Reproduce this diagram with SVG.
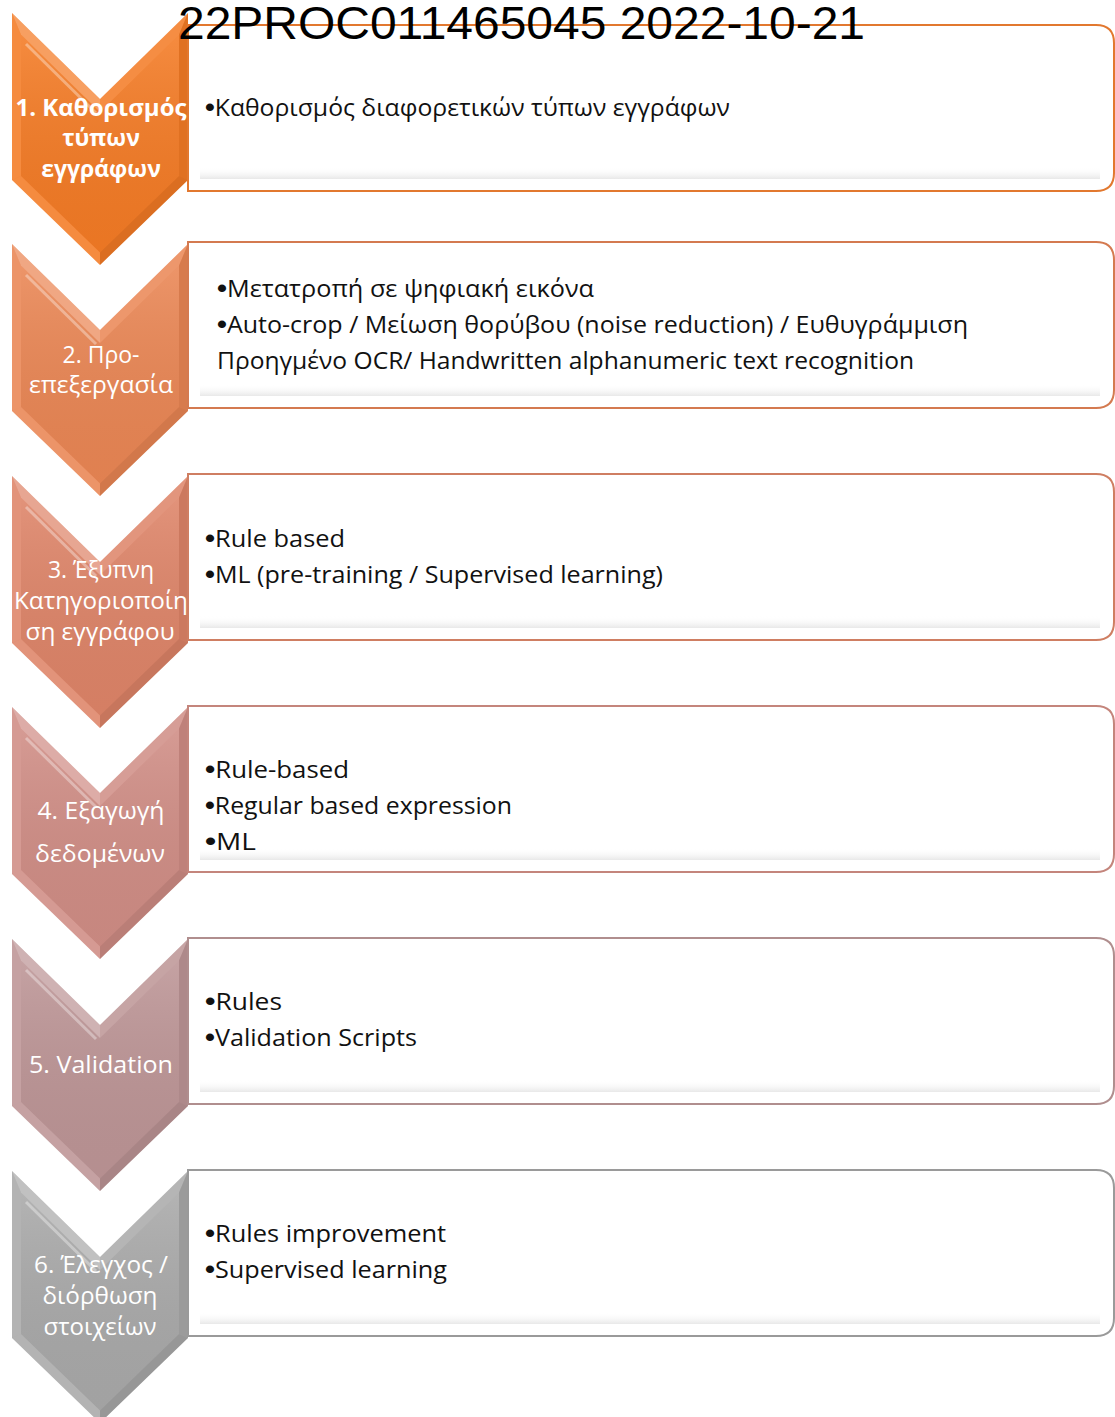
<svg xmlns="http://www.w3.org/2000/svg" xmlns:xlink="http://www.w3.org/1999/xlink" width="1115" height="1417" viewBox="0 0 1115 1417">
<style>
  .body { font-family: "Open Sans", "Noto Sans", "Liberation Sans", sans-serif; font-size: 23px; fill: #111; }
  .bul { font-family: "Liberation Sans", sans-serif; font-size: 26px; font-weight: bold; }
  .lbl { font-family: "Open Sans", "Noto Sans", "Liberation Sans", sans-serif; font-size: 23px; fill: #ffffff; text-anchor: middle; }
  .lblb { font-weight: bold; }
  .box { fill: #ffffff; stroke-width: 2; }
  .title { font-family: "Liberation Sans", Arial, sans-serif; font-size: 46px; fill: #000; }
</style>
<defs>
  <path id="chev" d="M12,13 L100,99 L188,13 L188,180 L100,265 L12,180 Z"/>
  <linearGradient id="shade" x1="0" y1="0" x2="0" y2="1">
    <stop offset="0" stop-color="#ffffff" stop-opacity="0.12"/>
    <stop offset="1" stop-color="#000000" stop-opacity="0.04"/>
  </linearGradient>
  <linearGradient id="band" x1="0" y1="0" x2="0" y2="1">
    <stop offset="0" stop-color="#ffffff" stop-opacity="0"/>
    <stop offset="1" stop-color="#e8e8e8" stop-opacity="1"/>
  </linearGradient>
  <g id="bevel">
    <polygon points="12,13 100,99 100,112 21,34.5" fill="#ffffff" fill-opacity="0.28"/>
    <polygon points="100,99 188,13 179,34.5 100,112" fill="#ffffff" fill-opacity="0.14"/>
    <polygon points="12,13 21,34.5 21,176 12,180" fill="#ffffff" fill-opacity="0.12"/>
    <polygon points="188,13 188,180 179,176 179,34.5" fill="#000000" fill-opacity="0.08"/>
    <polygon points="12,180 21,176 100,252.5 100,265" fill="#ffffff" fill-opacity="0.12"/>
    <polygon points="188,180 100,265 100,252.5 179,176" fill="#000000" fill-opacity="0.1"/>
    <polygon points="21,34.5 100,112 179,34.5 179,176 100,252.5 21,176" fill="url(#shade)"/>
    <polyline points="26,44 96,113" fill="none" stroke="#ffffff" stroke-opacity="0.35" stroke-width="3"/>
  </g>
  <path id="boxshape" d="M188,0 H1096 Q1114,0 1114,18 V148 Q1114,166 1096,166 H188 Z"/>
</defs>

<g id="connectors"></g>

<g id="step1">
  <use xlink:href="#chev" fill="#F47B25"/>
  <use xlink:href="#bevel"/>
  <g transform="translate(0,25)">
    <use xlink:href="#boxshape" class="box" stroke="#E2782F"/>
    <rect x="200" y="142" width="900" height="12" fill="url(#band)"/>
  </g>
  <text class="lbl lblb" x="101" y="116" textLength="171" lengthAdjust="spacingAndGlyphs">1. Καθορισμός</text>
  <text class="lbl lblb" x="101" y="146">τύπων</text>
  <text class="lbl lblb" x="101" y="177">εγγράφων</text>
  <text class="body" x="205" y="116" textLength="525" lengthAdjust="spacingAndGlyphs"><tspan class="bul">•</tspan>Καθορισμός διαφορετικών τύπων εγγράφων</text>
</g>

<g id="step2" transform="translate(0,231)">
  <use xlink:href="#chev" fill="#EA8654"/>
  <use xlink:href="#bevel"/>
  <g transform="translate(0,11)">
    <use xlink:href="#boxshape" class="box" stroke="#D47A50"/>
    <rect x="200" y="142" width="900" height="12" fill="url(#band)"/>
  </g>
  <text class="lbl" x="101" y="132">2. Προ-</text>
  <text class="lbl" x="101" y="162" textLength="144" lengthAdjust="spacingAndGlyphs">επεξεργασία</text>
  <text class="body" x="217" y="66" textLength="377" lengthAdjust="spacingAndGlyphs"><tspan class="bul">•</tspan>Μετατροπή σε ψηφιακή εικόνα</text>
  <text class="body" x="217" y="102" textLength="751" lengthAdjust="spacingAndGlyphs"><tspan class="bul">•</tspan>Auto-crop / Μείωση θορύβου (noise reduction) / Ευθυγράμμιση</text>
  <text class="body" x="217" y="138" textLength="697" lengthAdjust="spacingAndGlyphs">Προηγμένο OCR/ Handwritten alphanumeric text recognition</text>
</g>

<g id="step3" transform="translate(0,463)">
  <use xlink:href="#chev" fill="#DE8468"/>
  <use xlink:href="#bevel"/>
  <g transform="translate(0,11)">
    <use xlink:href="#boxshape" class="box" stroke="#CF7E62"/>
    <rect x="200" y="142" width="900" height="12" fill="url(#band)"/>
  </g>
  <text class="lbl" x="101" y="115">3. Έξυπνη</text>
  <text class="lbl" x="101" y="146" textLength="174" lengthAdjust="spacingAndGlyphs">Κατηγοριοποίη</text>
  <text class="lbl" x="100" y="177" textLength="149" lengthAdjust="spacingAndGlyphs">ση εγγράφου</text>
  <text class="body" x="205" y="84" textLength="140" lengthAdjust="spacingAndGlyphs"><tspan class="bul">•</tspan>Rule based</text>
  <text class="body" x="205" y="120" textLength="458" lengthAdjust="spacingAndGlyphs"><tspan class="bul">•</tspan>ML (pre-training / Supervised learning)</text>
</g>

<g id="step4" transform="translate(0,694)">
  <use xlink:href="#chev" fill="#D08D85"/>
  <use xlink:href="#bevel"/>
  <g transform="translate(0,12)">
    <use xlink:href="#boxshape" class="box" stroke="#C4857C"/>
    <rect x="200" y="142" width="900" height="12" fill="url(#band)"/>
  </g>
  <text class="lbl" x="101" y="125" textLength="127" lengthAdjust="spacingAndGlyphs">4. Εξαγωγή</text>
  <text class="lbl" x="100" y="168" textLength="130" lengthAdjust="spacingAndGlyphs">δεδομένων</text>
  <text class="body" x="205" y="84" textLength="144" lengthAdjust="spacingAndGlyphs"><tspan class="bul">•</tspan>Rule-based</text>
  <text class="body" x="205" y="120" textLength="307" lengthAdjust="spacingAndGlyphs"><tspan class="bul">•</tspan>Regular based expression</text>
  <text class="body" x="205" y="156" textLength="51" lengthAdjust="spacingAndGlyphs"><tspan class="bul">•</tspan>ML</text>
</g>

<g id="step5" transform="translate(0,926)">
  <use xlink:href="#chev" fill="#BD9596"/>
  <use xlink:href="#bevel"/>
  <g transform="translate(0,12)">
    <use xlink:href="#boxshape" class="box" stroke="#B08E8E"/>
    <rect x="200" y="142" width="900" height="12" fill="url(#band)"/>
  </g>
  <text class="lbl" x="101" y="147" textLength="144" lengthAdjust="spacingAndGlyphs">5. Validation</text>
  <text class="body" x="205" y="84" textLength="77" lengthAdjust="spacingAndGlyphs"><tspan class="bul">•</tspan>Rules</text>
  <text class="body" x="205" y="120" textLength="212" lengthAdjust="spacingAndGlyphs"><tspan class="bul">•</tspan>Validation Scripts</text>
</g>

<g id="step6" transform="translate(0,1158)">
  <use xlink:href="#chev" fill="#A9A9A9"/>
  <use xlink:href="#bevel"/>
  <g transform="translate(0,12)">
    <use xlink:href="#boxshape" class="box" stroke="#9A9A9A"/>
    <rect x="200" y="142" width="900" height="12" fill="url(#band)"/>
  </g>
  <text class="lbl" x="101" y="115" textLength="134" lengthAdjust="spacingAndGlyphs">6. Έλεγχος /</text>
  <text class="lbl" x="100" y="146" textLength="115" lengthAdjust="spacingAndGlyphs">διόρθωση</text>
  <text class="lbl" x="100" y="177" textLength="113" lengthAdjust="spacingAndGlyphs">στοιχείων</text>
  <text class="body" x="205" y="84" textLength="241" lengthAdjust="spacingAndGlyphs"><tspan class="bul">•</tspan>Rules improvement</text>
  <text class="body" x="205" y="120" textLength="242" lengthAdjust="spacingAndGlyphs"><tspan class="bul">•</tspan>Supervised learning</text>
</g>

<text id="title" class="title" x="178" y="39" textLength="687" lengthAdjust="spacingAndGlyphs">22PROC011465045 2022-10-21</text>
</svg>
